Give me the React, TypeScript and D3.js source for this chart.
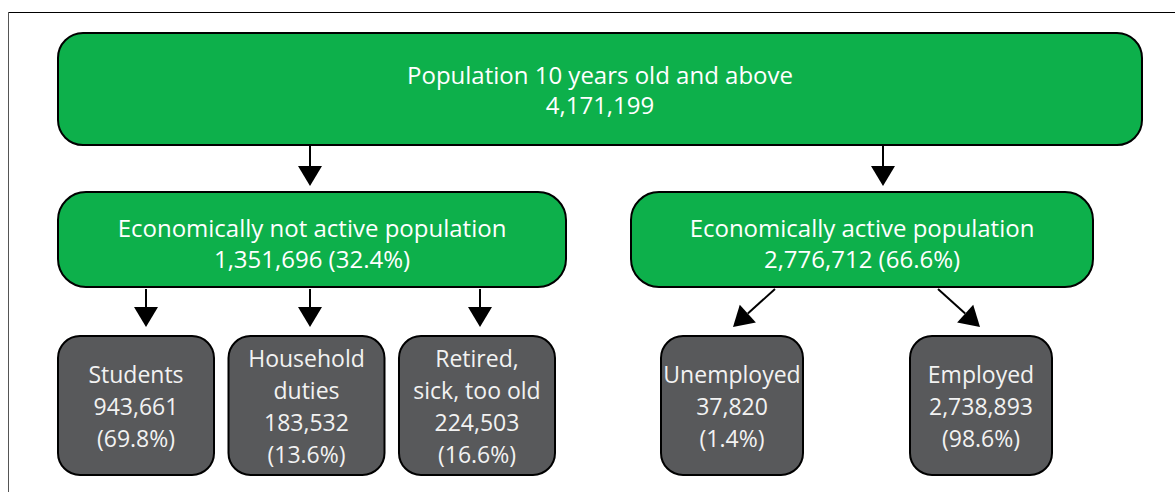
import React from 'react';
import * as d3 from 'd3';

// population figures
const totalLabel = ['Population 10 years old and above'];
const totalPopulation = 4171199;

const groupNames = ['Economically not active population', 'Economically active population'];
const groupValues = [1351696, 2776712];
const groupShares = [32.4, 66.6];

const inactiveNames = [['Students'], ['Household', 'duties'], ['Retired,', 'sick, too old']];
const inactiveValues = [943661, 183532, 224503];
const inactiveShares = [69.8, 13.6, 16.6];

const activeNames = [['Unemployed'], ['Employed']];
const activeValues = [37820, 2738893];
const activeShares = [1.4, 98.6];

const W = 1175;
const H = 492;
const GREEN = '#0db04b';
const GREY = '#58595b';
const FONT = "'Open Sans', sans-serif";
const fmt = d3.format(',');
const pct = (v: number) => `(${v.toFixed(1)}%)`;

type Box = { x0: number; x1: number; y0: number; y1: number };

const arrowHead = (x1: number, y1: number, x2: number, y2: number, len = 20, half = 12) => {
  const a = Math.atan2(y2 - y1, x2 - x1);
  const bx = x2 - len * Math.cos(a);
  const by = y2 - len * Math.sin(a);
  const p = d3.path();
  p.moveTo(x2, y2);
  p.lineTo(bx + half * Math.sin(a), by - half * Math.cos(a));
  p.lineTo(bx - half * Math.sin(a), by + half * Math.cos(a));
  p.closePath();
  return { d: p.toString(), bx, by };
};

const Arrow = ({ x1, y1, x2, y2 }: { x1: number; y1: number; x2: number; y2: number }) => {
  const h = arrowHead(x1, y1, x2, y2);
  return (
    <g>
      <line x1={x1} y1={y1} x2={h.bx} y2={h.by} stroke="#000" strokeWidth={2} />
      <path d={h.d} fill="#000" />
    </g>
  );
};

const Node = ({ box, fill, r, lines, step, dy = 0, color, size }: {
  box: Box; fill: string; r: number; lines: string[]; step: number; dy?: number; color: string; size: number;
}) => {
  const cx = (box.x0 + box.x1) / 2;
  const cy = (box.y0 + box.y1) / 2 + dy;
  return (
    <g>
      <rect x={box.x0} y={box.y0} width={box.x1 - box.x0} height={box.y1 - box.y0}
        rx={r} ry={r} fill={fill} stroke="#000" strokeWidth={2} />
      {lines.map((t, i) => (
        <text key={i} x={cx} y={cy + (i - (lines.length - 1) / 2) * step}
          textAnchor="middle" dominantBaseline="central" fill={color}
          fontFamily={FONT} fontSize={size}>{t}</text>
      ))}
    </g>
  );
};

export default function App() {
  // horizontal layout: a linear scale from diagram units to pixels
  const x = d3.scaleLinear().domain([0, 1]).range([58, 1142]);
  const topBox: Box = { x0: x(0), x1: x(1), y0: 33, y1: 145 };

  const groupBoxes: Box[] = [
    { x0: 58, x1: 566, y0: 192, y1: 287 },
    { x0: 631, x1: 1093, y0: 192, y1: 287 },
  ];

  const inactiveX = d3.scaleBand<number>().domain(d3.range(inactiveNames.length)).range([58, 555]).paddingInner(0.085);
  const inactiveBoxes: Box[] = inactiveNames.map((_, i) => ({
    x0: inactiveX(i)!, x1: inactiveX(i)! + inactiveX.bandwidth(), y0: 336, y1: 475,
  }));
  const activeCentres = [732, 981];
  const activeBoxes: Box[] = activeNames.map((_, i) => ({
    x0: activeCentres[i] - 71, x1: activeCentres[i] + 71, y0: 336, y1: 475,
  }));

  const downX = [310, 883];
  const inactiveArrowX = [146, 310, 480];

  return (
    <svg width={W} height={H} style={{ position: 'absolute', left: 0, top: 0, background: '#fff' }}>
      <line x1={8} y1={12.5} x2={W} y2={12.5} stroke="#000" strokeWidth={1} />
      <line x1={8.5} y1={12} x2={8.5} y2={H} stroke="#555" strokeWidth={1} />

      <Node box={topBox} fill={GREEN} r={25} step={30} color="#fff" size={24}
        lines={[...totalLabel, fmt(totalPopulation)]} />

      {downX.map((dx, i) => (
        <Arrow key={i} x1={dx} y1={topBox.y1} x2={dx} y2={186} />
      ))}

      {groupBoxes.map((b, i) => (
        <Node key={i} box={b} fill={GREEN} r={28} step={31} dy={3} color="#fff" size={24}
          lines={[groupNames[i], `${fmt(groupValues[i])} ${pct(groupShares[i])}`]} />
      ))}

      {inactiveArrowX.map((ax, i) => (
        <Arrow key={i} x1={ax} y1={289} x2={ax} y2={327} />
      ))}
      <Arrow x1={775} y1={289} x2={733} y2={327} />
      <Arrow x1={938} y1={289} x2={980} y2={327} />

      {inactiveBoxes.map((b, i) => (
        <Node key={i} box={b} fill={GREY} r={22} step={32} color="#f2f2f2" size={23}
          lines={[...inactiveNames[i], fmt(inactiveValues[i]), pct(inactiveShares[i])]} />
      ))}
      {activeBoxes.map((b, i) => (
        <Node key={i} box={b} fill={GREY} r={22} step={32} color="#f2f2f2" size={23}
          lines={[...activeNames[i], fmt(activeValues[i]), pct(activeShares[i])]} />
      ))}
    </svg>
  );
}
